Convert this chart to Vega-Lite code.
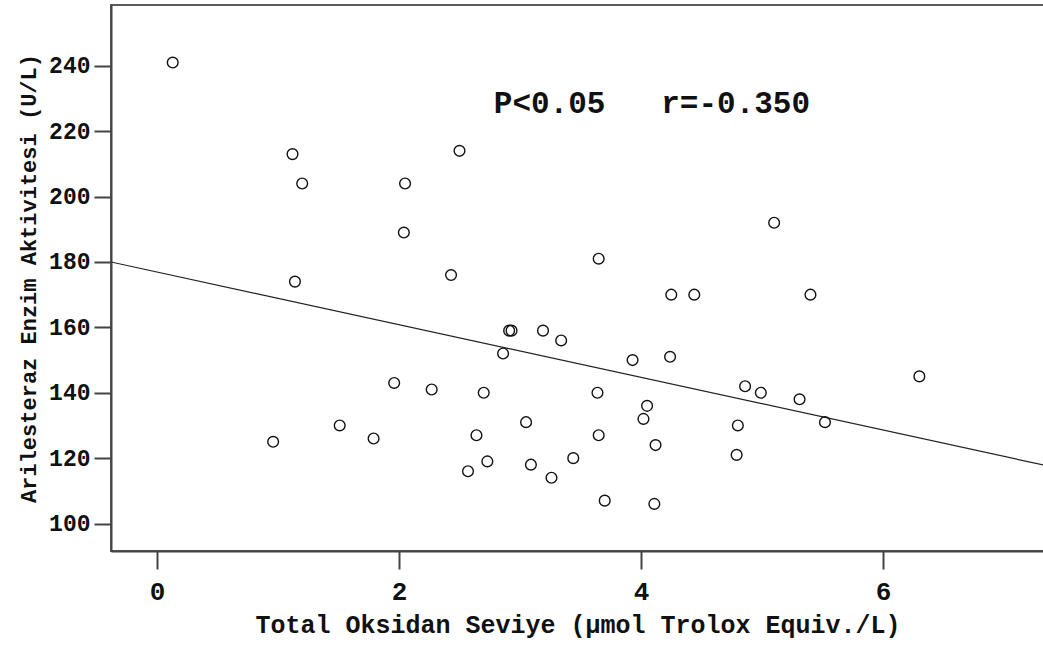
{
  "$schema": "https://vega.github.io/schema/vega-lite/v6.json",
  "width": 933,
  "height": 546,
  "autosize": "none",
  "padding": {"left": 111, "top": 5, "right": 0, "bottom": 98},
  "background": "white",
  "config": {
    "view": {"stroke": "#5a5a5a", "strokeWidth": 2},
    "axis": {
      "grid": false,
      "domainColor": "#444444",
      "domainWidth": 2,
      "tickColor": "#444444",
      "tickWidth": 2,
      "labelFont": "Liberation Mono",
      "labelFontWeight": "bold",
      "labelColor": "#111111",
      "titleFont": "Liberation Mono",
      "titleFontWeight": "bold",
      "titleColor": "#111111"
    }
  },
  "datasets": {
    "pts": [
      {"tos": 0.13, "ae": 241}, {"tos": 1.12, "ae": 213}, {"tos": 1.20, "ae": 204},
      {"tos": 1.14, "ae": 174}, {"tos": 0.96, "ae": 125}, {"tos": 1.51, "ae": 130},
      {"tos": 1.79, "ae": 126}, {"tos": 1.96, "ae": 143}, {"tos": 2.50, "ae": 214},
      {"tos": 2.05, "ae": 204}, {"tos": 2.04, "ae": 189}, {"tos": 2.43, "ae": 176},
      {"tos": 3.65, "ae": 181}, {"tos": 5.10, "ae": 192}, {"tos": 4.25, "ae": 170},
      {"tos": 4.44, "ae": 170}, {"tos": 2.91, "ae": 159}, {"tos": 2.93, "ae": 159},
      {"tos": 3.19, "ae": 159}, {"tos": 3.34, "ae": 156}, {"tos": 2.86, "ae": 152},
      {"tos": 3.93, "ae": 150}, {"tos": 4.24, "ae": 151}, {"tos": 2.27, "ae": 141},
      {"tos": 2.70, "ae": 140}, {"tos": 3.64, "ae": 140}, {"tos": 4.05, "ae": 136},
      {"tos": 4.02, "ae": 132}, {"tos": 4.86, "ae": 142}, {"tos": 4.99, "ae": 140},
      {"tos": 3.05, "ae": 131}, {"tos": 2.64, "ae": 127}, {"tos": 3.65, "ae": 127},
      {"tos": 4.80, "ae": 130}, {"tos": 4.12, "ae": 124}, {"tos": 4.79, "ae": 121},
      {"tos": 3.44, "ae": 120}, {"tos": 2.73, "ae": 119}, {"tos": 3.09, "ae": 118},
      {"tos": 2.57, "ae": 116}, {"tos": 3.26, "ae": 114}, {"tos": 3.70, "ae": 107},
      {"tos": 4.11, "ae": 106}, {"tos": 5.40, "ae": 170}, {"tos": 6.30, "ae": 145},
      {"tos": 5.31, "ae": 138}, {"tos": 5.52, "ae": 131}
    ],
    "fit": [
      {"tos": -0.38, "ae": 180.0},
      {"tos": 7.40, "ae": 117.3}
    ],
    "note": [
      {"tos": 4.09, "ae": 228.3, "label": "P<0.05\u00a0\u00a0\u00a0r=-0.350"}
    ]
  },
  "layer": [
    {
      "data": {"name": "fit"},
      "mark": {"type": "line", "color": "#222222", "strokeWidth": 1.2, "clip": true},
      "encoding": {
        "x": {"field": "tos", "type": "quantitative", "scale": {"domain": [-0.38, 7.33], "nice": false, "zero": false},
          "axis": {"values": [0, 2, 4, 6], "format": "d", "title": "Total Oksidan Seviye (µmol Trolox Equiv./L)", "labelFontSize": 26, "labelPadding": 9, "tickSize": 18, "titleFontSize": 25, "titlePadding": 8}},
        "y": {"field": "ae", "type": "quantitative", "scale": {"domain": [91.6, 258.6], "nice": false, "zero": false},
          "axis": {"values": [100, 120, 140, 160, 180, 200, 220, 240], "format": "d", "title": "Arilesteraz Enzim Aktivitesi (U/L)", "labelFontSize": 23, "labelPadding": 4, "tickSize": 17, "titleFontSize": 22, "titlePadding": 8}}
      }
    },
    {
      "data": {"name": "pts"},
      "mark": {"type": "point", "shape": "circle", "filled": false, "size": 115, "stroke": "#111111", "strokeWidth": 1.4, "opacity": 1},
      "encoding": {
        "x": {"field": "tos", "type": "quantitative"},
        "y": {"field": "ae", "type": "quantitative"}
      }
    },
    {
      "data": {"name": "note"},
      "mark": {"type": "text", "font": "Liberation Mono", "fontSize": 31, "fontWeight": "bold", "align": "center", "baseline": "middle", "color": "#111111"},
      "encoding": {
        "x": {"field": "tos", "type": "quantitative"},
        "y": {"field": "ae", "type": "quantitative"},
        "text": {"field": "label"}
      }
    }
  ]
}
